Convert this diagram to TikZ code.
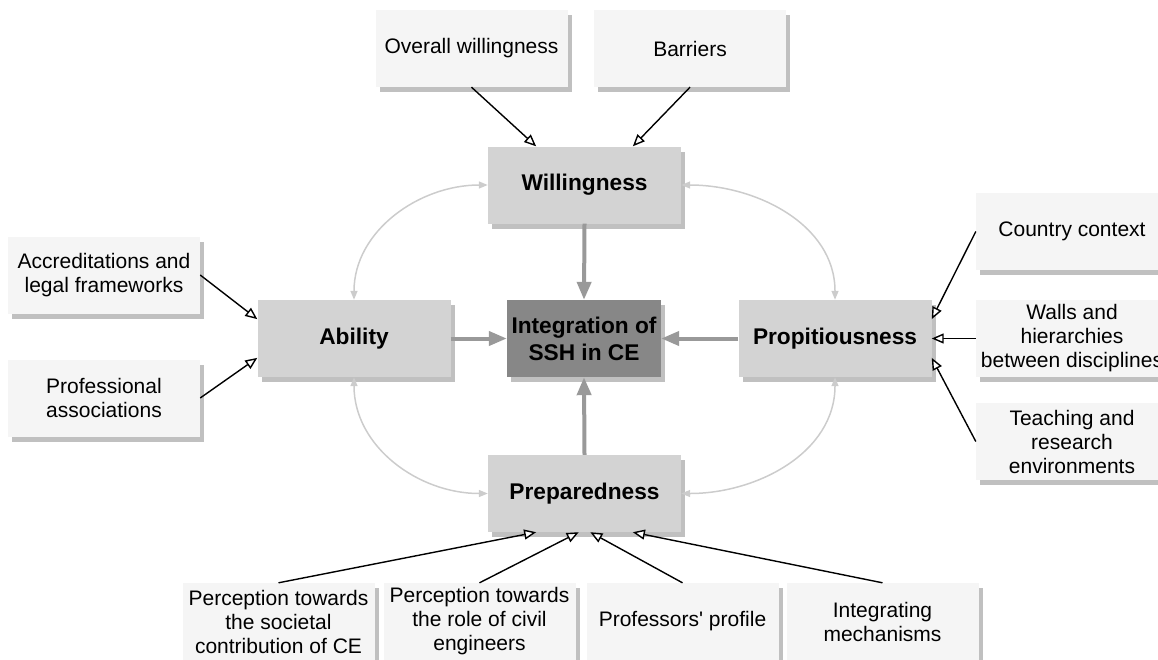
\documentclass[tikz,border=0pt]{standalone}
\usepackage{fontspec}
\setmainfont{Liberation Sans}
\usetikzlibrary{arrows.meta,shadows,calc}

\definecolor{leaf}{HTML}{F5F5F5}
\definecolor{factor}{HTML}{D3D3D3}
\definecolor{core}{HTML}{878787}
\definecolor{shade}{HTML}{C0C0C0}
\definecolor{mainarrow}{HTML}{999999}
\definecolor{linkarrow}{HTML}{CCCCCC}

\begin{document}
\begin{tikzpicture}[x=1pt,y=-1pt,
  box/.style={draw=none, inner sep=0pt, align=center,
    drop shadow={shadow xshift=4pt, shadow yshift=-5pt, fill=shade, opacity=1}},
  leafbox/.style={box, fill=leaf, minimum width=192pt, minimum height=77pt,
    font=\fontsize{21}{24}\selectfont},
  factorbox/.style={box, fill=factor, minimum width=193pt, minimum height=77pt,
    font=\bfseries\fontsize{22.7}{27}\selectfont},
  corebox/.style={factorbox, fill=core, minimum width=154pt},
  feed/.style={draw=black, line width=1.4pt,
    -{Triangle[length=12pt, width=10pt, fill=white, line width=1.4pt]}},
  mainlink/.style={draw=mainarrow, line width=4pt,
    -{Triangle[length=18pt, width=14pt]}},
  sidelink/.style={draw=linkarrow, line width=1.5pt,
    {Triangle[length=9pt, width=7pt]}-{Triangle[length=9pt, width=7pt]}},
]
\useasboundingbox (0,0) rectangle (1158,659);
\clip (0,0) rectangle (1158,659);

% central factors
\node[factorbox] (will)  at (584.5,185)   {Willingness};
\node[factorbox] (abil)  at (354,338.5)   {Ability};
\node[corebox]   (integ) at (584,338.5)   {Integration of\\SSH in CE};
\node[factorbox] (prop)  at (835,338.5)   {Propitiousness};
\node[factorbox] (prep)  at (584.5,493.5) {Preparedness};

% contributing aspects
\node[leafbox] (ow)    at (471.5,48.5) {Overall willingness};
\node[leafbox] (bar)   at (690,48.5)   {Barriers};
\node[leafbox] (accr)  at (104,275)    {Accreditations and\\legal frameworks};
\node[leafbox] (prof)  at (104,398)    {Professional\\associations};
\node[leafbox] (ctry)  at (1072,231.5) {Country context};
\node[leafbox] (walls) at (1072,338.5) {Walls and\\hierarchies\\between disciplines};
\node[leafbox] (teach) at (1072,441.5) {Teaching and\\research\\environments};
\node[leafbox] (p1)    at (278.5,621.5) {Perception towards\\the societal\\contribution of CE};
\node[leafbox] (p2)    at (479.5,621.5) {Perception towards\\the role of civil\\engineers};
\node[leafbox] (p3)    at (682.5,621.5) {Professors\textquotesingle\ profile};
\node[leafbox] (p4)    at (882.5,621.5) {Integrating\\mechanisms};

% links between the factors
\draw[sidelink] (abil.north) to[out=90, in=180] (will.west);
\draw[sidelink] (will.east) to[out=0, in=90] (prop.north);
\draw[sidelink] (abil.south) to[out=-90, in=180] (prep.west);
\draw[sidelink] (prop.south) to[out=-90, in=0] (prep.east);

% factors feeding the integration
\draw[mainlink] (will.south) -- (integ.north);
\draw[mainlink] (abil.east) -- (integ.west);
\draw[mainlink] (prop.west) -- (integ.east);
\draw[mainlink] (prep.north) -- (integ.south);

% aspects feeding each factor
\draw[feed] (ow.south)  -- ($(will.north west)!0.25!(will.north east)$);
\draw[feed] (bar.south) -- ($(will.north west)!0.75!(will.north east)$);
\draw[feed] (accr.east) -- ($(abil.north west)!0.25!(abil.south west)$);
\draw[feed] (prof.east) -- ($(abil.north west)!0.75!(abil.south west)$);
\draw[feed] (ctry.west) -- ($(prop.north east)!0.25!(prop.south east)$);
\draw[feed] (walls.west) -- (prop.east);
\draw[feed] (teach.west) -- ($(prop.north east)!0.75!(prop.south east)$);
\draw[feed] (p1.north) -- ($(prep.south west)!0.25!(prep.south east)$);
\draw[feed] (p2.north) -- ($(prep.south west)!0.47!(prep.south east)$);
\draw[feed] (p3.north) -- ($(prep.south west)!0.53!(prep.south east)$);
\draw[feed] (p4.north) -- ($(prep.south west)!0.75!(prep.south east)$);
\end{tikzpicture}
\end{document}
